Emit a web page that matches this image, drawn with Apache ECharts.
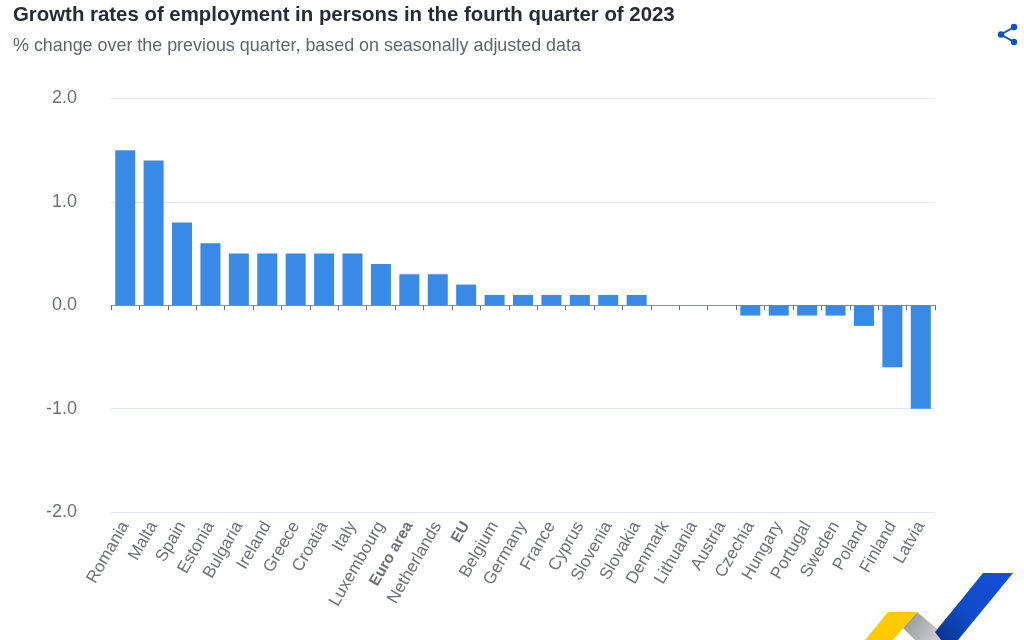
<!DOCTYPE html>
<html>
<head>
<meta charset="utf-8">
<style>
  html, body { margin: 0; padding: 0; background: #fff; }
  #main { width: 1024px; height: 640px; }
</style>
<script src="https://cdn.jsdelivr.net/npm/echarts@6/dist/echarts.min.js"></script>
</head>
<body>
<div id="main"></div>
<script>
const countries = ['Romania', 'Malta', 'Spain', 'Estonia', 'Bulgaria', 'Ireland', 'Greece', 'Croatia', 'Italy',
  'Luxembourg', 'Euro area', 'Netherlands', 'EU', 'Belgium', 'Germany', 'France', 'Cyprus', 'Slovenia', 'Slovakia',
  'Denmark', 'Lithuania', 'Austria', 'Czechia', 'Hungary', 'Portugal', 'Sweden', 'Poland', 'Finland', 'Latvia'];
const growth = [1.5, 1.4, 0.8, 0.6, 0.5, 0.5, 0.5, 0.5, 0.5,
  0.4, 0.3, 0.3, 0.2, 0.1, 0.1, 0.1, 0.1, 0.1, 0.1,
  0, 0, 0, -0.1, -0.1, -0.1, -0.1, -0.2, -0.6, -1.0];
const boldLabels = ['Euro area', 'EU'];
const titleText = 'Growth rates of employment in persons in the fourth quarter of 2023';
const subtitleText = '% change over the previous quarter, based on seasonally adjusted data';

const font = '"Liberation Sans", Arial, sans-serif';
const chart = echarts.init(document.getElementById('main'), null, { renderer: 'canvas' });

const option = {
  animation: false,
  textStyle: { fontFamily: font },
  title: {
    text: titleText,
    subtext: subtitleText,
    left: 8,
    top: 0,
    itemGap: 12,
    textStyle: { fontFamily: font, fontSize: 20.4, fontWeight: 'bold', color: '#262b38' },
    subtextStyle: { fontFamily: font, fontSize: 17.9, color: '#5f6470' }
  },
  grid: { left: 111, right: 89, top: 98.5, bottom: 128 },
  xAxis: {
    type: 'category',
    data: countries,
    axisLine: { onZero: true, lineStyle: { color: '#8a8f99', width: 1 } },
    axisTick: { show: true, length: 5, lineStyle: { color: '#6e7079' } },
    axisLabel: {
      interval: 0,
      rotate: 60,
      margin: 11,
      fontSize: 17,
      color: '#6e7079',
      formatter: function (v) {
        return boldLabels.indexOf(v) >= 0 ? '{b|' + v + '}' : v;
      },
      rich: { b: { fontSize: 15.5, fontWeight: 'bold', color: '#6e7079', fontFamily: font } }
    }
  },
  yAxis: {
    type: 'value',
    min: -2,
    max: 2,
    interval: 1,
    axisLine: { show: false },
    axisTick: { show: false },
    splitLine: { lineStyle: { color: '#e0e6f1', width: 1 } },
    axisLabel: {
      margin: 34,
      fontSize: 18,
      color: '#6e7079',
      padding: [0, 0, 3, 0],
      formatter: function (v) { return v.toFixed(1); }
    }
  },
  series: [{
    type: 'bar',
    data: growth,
    barWidth: 20,
    itemStyle: { color: '#388ae6' }
  }],
  graphic: [
    // share icon
    { type: 'polyline', shape: { points: [[1014, 27], [1001, 34.5], [1014, 42]] }, style: { stroke: '#0f4fd0', lineWidth: 2, fill: null } },
    { type: 'circle', shape: { cx: 1014, cy: 27, r: 3.2 }, style: { fill: '#0f4fd0' } },
    { type: 'circle', shape: { cx: 1001, cy: 34.5, r: 3.2 }, style: { fill: '#0f4fd0' } },
    { type: 'circle', shape: { cx: 1014, cy: 42, r: 3.2 }, style: { fill: '#0f4fd0' } },
    // logo in the corner
    { type: 'polygon', shape: { points: [[917, 612], [942, 633], [950, 640], [915, 640], [903, 628]] },
      style: { fill: new echarts.graphic.LinearGradient(0, 0, 1, 1, [{ offset: 0, color: '#8f9195' }, { offset: 1, color: '#dcdcdc' }]) } },
    { type: 'polygon', shape: { points: [[888, 612], [917, 612], [893, 640], [865, 640]] }, style: { fill: '#ffcb00' } },
    { type: 'polygon', shape: { points: [[983, 573], [1013, 573], [958, 640], [941, 640], [935, 632]] },
      style: { fill: new echarts.graphic.LinearGradient(1, 0, 0, 1, [{ offset: 0, color: '#1250d8' }, { offset: 0.6, color: '#0f4ac8' }, { offset: 1, color: '#0a3488' }]) } }
  ]
};

chart.setOption(option);
</script>
</body>
</html>
